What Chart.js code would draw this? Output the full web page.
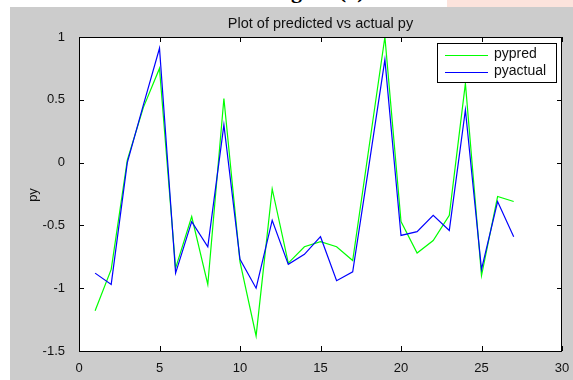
<!DOCTYPE html>
<html>
<head>
<meta charset="utf-8">
<script src="https://cdn.jsdelivr.net/npm/chart.js@4.4.1/dist/chart.umd.min.js"></script>
<style>
  html, body { margin: 0; padding: 0; background: #ffffff; overflow: hidden; }
  #page { position: relative; width: 573px; height: 380px; }
  #caption {
    position: absolute; left: 218px; top: -20px; width: 200px; text-align: center;
    font: bold 22px "Liberation Serif", serif; line-height: 22px; color: #000;
  }
  #pink { position: absolute; left: 447px; top: 0; width: 126px; height: 7px; background: #fce3dc; }
  #fig { position: absolute; left: 10px; top: 7px; width: 563px; height: 373px; background: #cccccc; }
</style>
</head>
<body>
<div id="page">
  <div id="caption">Figure (a)</div>
  <div id="pink"></div>
  <div id="fig"><canvas id="chart" width="563" height="373"></canvas></div>
</div>
<script>
// sample index along the x axis
const xValues = [1, 2, 3, 4, 5, 6, 7, 8, 9, 10, 11, 12, 13, 14, 15, 16, 17, 18, 19, 20, 21, 22, 23, 24, 25, 26, 27];

// predicted and actual py
const pypred = [-1.18, -0.85, 0.02, 0.44, 0.75, -0.84, -0.43, -0.97, 0.51, -0.79, -1.38, -0.21, -0.80, -0.67, -0.63, -0.67, -0.78, 0.11, 1.0, -0.47, -0.72, -0.62, -0.42, 0.63, -0.90, -0.27, -0.31];
const pyactual = [-0.88, -0.97, 0.0, 0.46, 0.91, -0.88, -0.47, -0.67, 0.30, -0.77, -1.0, -0.46, -0.81, -0.73, -0.59, -0.94, -0.87, -0.03, 0.82, -0.58, -0.55, -0.42, -0.54, 0.42, -0.85, -0.31, -0.59];

// axis ticks
const xTicks = [0, 5, 10, 15, 20, 25, 30];
const yTicks = [-1.5, -1, -0.5, 0, 0.5, 1];

const seriesNames = ["pypred", "pyactual"];
const seriesColors = ["#00ff00", "#0000ff"];

const font = "Liberation Sans";

const toPoints = (ys) => xValues.map((x, i) => ({ x: x, y: ys[i] }));

// white axes box, black frame, inward ticks, title, y label and legend
const matlabAxes = {
  id: "matlabAxes",
  beforeDraw(chart) {
    const { ctx, chartArea: a } = chart;
    ctx.save();
    ctx.fillStyle = "#ffffff";
    ctx.fillRect(a.left, a.top, a.right - a.left, a.bottom - a.top);
    ctx.restore();
  },
  afterDraw(chart) {
    const { ctx, chartArea: a, scales } = chart;
    const tl = 5;
    ctx.save();
    ctx.strokeStyle = "#000000";
    ctx.lineWidth = 1;
    ctx.strokeRect(a.left + 0.5, a.top + 0.5, a.right - a.left - 1, a.bottom - a.top);
    ctx.beginPath();
    xTicks.forEach((v) => {
      const px = Math.round(scales.x.getPixelForValue(v)) + 0.5;
      ctx.moveTo(px, a.bottom); ctx.lineTo(px, a.bottom - tl);
      ctx.moveTo(px, a.top); ctx.lineTo(px, a.top + tl);
    });
    yTicks.forEach((v) => {
      const py = Math.round(scales.y.getPixelForValue(v)) + 0.5;
      ctx.moveTo(a.left, py); ctx.lineTo(a.left + tl, py);
      ctx.moveTo(a.right, py); ctx.lineTo(a.right - tl, py);
    });
    ctx.stroke();

    // title
    ctx.fillStyle = "#111111";
    ctx.font = "14.5px " + font;
    ctx.textAlign = "center";
    ctx.textBaseline = "middle";
    ctx.fillText("Plot of predicted vs actual py", (a.left + a.right) / 2, 17);

    // y label
    ctx.save();
    ctx.font = "13px " + font;
    ctx.translate(23, 188);
    ctx.rotate(-Math.PI / 2);
    ctx.fillText("py", 0, 0);
    ctx.restore();

    // legend
    const lx = 427, ly = 36, lw = 119, lh = 39;
    ctx.fillStyle = "#ffffff";
    ctx.fillRect(lx, ly, lw, lh);
    ctx.strokeStyle = "#000000";
    ctx.strokeRect(lx + 0.5, ly + 0.5, lw, lh);
    ctx.font = "14px " + font;
    ctx.textAlign = "left";
    seriesNames.forEach((name, i) => {
      const y = ly + 11.5 + i * 17;
      ctx.strokeStyle = seriesColors[i];
      ctx.beginPath();
      ctx.moveTo(lx + 8, Math.round(y) + 0.5);
      ctx.lineTo(lx + 51, Math.round(y) + 0.5);
      ctx.stroke();
      ctx.fillStyle = "#111111";
      ctx.fillText(name, lx + 57, y);
    });
    ctx.restore();
  },
};

const tickText = (v) => String(v);

new Chart(document.getElementById("chart"), {
  type: "line",
  data: {
    datasets: [
      { label: seriesNames[0], data: toPoints(pypred), borderColor: seriesColors[0], order: 1 },
      { label: seriesNames[1], data: toPoints(pyactual), borderColor: seriesColors[1], order: 0 },
    ],
  },
  plugins: [matlabAxes],
  options: {
    responsive: false,
    animation: false,
    layout: { padding: { top: 30, right: 11, left: 0, bottom: 0 } },
    elements: {
      line: { borderWidth: 1.2, tension: 0 },
      point: { radius: 0 },
    },
    plugins: {
      legend: { display: false },
      title: { display: false },
      tooltip: { enabled: false },
    },
    scales: {
      x: {
        type: "linear",
        min: 0,
        max: 30,
        afterFit: (s) => { s.height = 29; },
        afterBuildTicks: (s) => { s.ticks = xTicks.map((v) => ({ value: v })); },
        grid: { display: false },
        border: { display: false },
        ticks: { color: "#111111", font: { family: font, size: 13 }, padding: 2, maxRotation: 0, callback: tickText },
      },
      y: {
        min: -1.5,
        max: 1,
        afterFit: (s) => { s.width = 69; },
        afterBuildTicks: (s) => { s.ticks = yTicks.map((v) => ({ value: v })); },
        grid: { display: false },
        border: { display: false },
        ticks: { color: "#111111", font: { family: font, size: 13 }, padding: 6, callback: tickText },
      },
    },
  },
});
</script>
</body>
</html>
